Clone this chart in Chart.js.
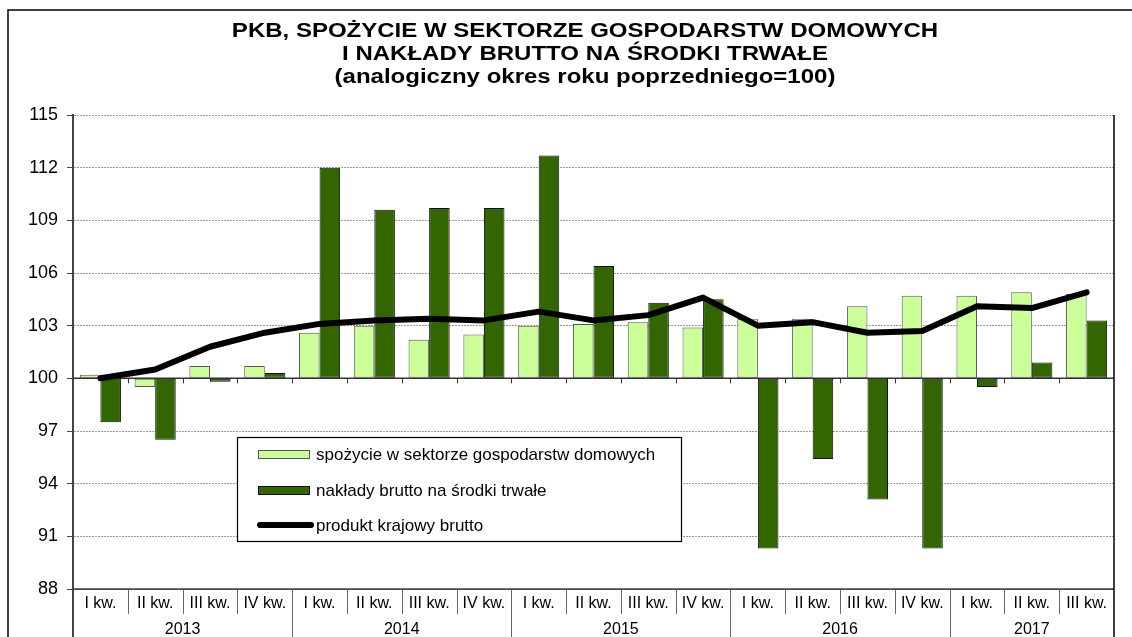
<!DOCTYPE html>
<html>
<head>
<meta charset="utf-8">
<script src="https://cdn.jsdelivr.net/npm/chart.js@4"></script>
<style>
  html, body { margin: 0; padding: 0; background: #fff; }
  #wrap { width: 1132px; height: 637px; position: relative; }
</style>
</head>
<body>
<div id="wrap"><canvas id="gdpChart"></canvas></div>
<script>
// dane
const quarters = ['I kw.', 'II kw.', 'III kw.', 'IV kw.',
  'I kw.', 'II kw.', 'III kw.', 'IV kw.',
  'I kw.', 'II kw.', 'III kw.', 'IV kw.',
  'I kw.', 'II kw.', 'III kw.', 'IV kw.',
  'I kw.', 'II kw.', 'III kw.'];
const years = ['2013', '2014', '2015', '2016', '2017'];
const quartersPerYear = [4, 4, 4, 4, 3];

const consumption = [100.2, 99.5, 100.7, 100.7, 102.6, 103.0, 102.2, 102.5, 103.0, 103.1,
  103.2, 102.9, 103.4, 103.4, 104.1, 104.7, 104.7, 104.9, 104.8];
const investment = [97.5, 96.5, 99.8, 100.3, 112.0, 109.6, 109.7, 109.7, 112.7, 106.4,
  104.3, 104.5, 90.3, 95.4, 93.1, 90.3, 99.5, 100.9, 103.3];
const gdp = [100.0, 100.5, 101.8, 102.6, 103.1, 103.3, 103.4, 103.3, 103.8, 103.3,
  103.6, 104.6, 103.0, 103.2, 102.6, 102.7, 104.1, 104.0, 104.9];

const yTicks = [88, 91, 94, 97, 100, 103, 106, 109, 112, 115];

const titleLines = [
  'PKB, SPOŻYCIE W SEKTORZE GOSPODARSTW DOMOWYCH',
  'I NAKŁADY BRUTTO NA ŚRODKI TRWAŁE',
  '(analogiczny okres roku poprzedniego=100)'
];
const seriesNames = [
  'spożycie w sektorze gospodarstw domowych',
  'nakłady brutto na środki trwałe',
  'produkt krajowy brutto'
];

const LIGHT = '#CCFF99';
const DARK = '#336600';
const FONT = '"Liberation Sans", Arial, sans-serif';

// ramka, tytuł, legenda, opisy osi
const decorPlugin = {
  id: 'decor',
  beforeDraw(chart) {
    const c = chart.ctx;
    c.save();
    c.fillStyle = '#fff';
    c.fillRect(0, 0, chart.width, chart.height);
    c.strokeStyle = '#000';
    c.lineWidth = 1.5;
    c.strokeRect(8, 10, chart.width + 20, chart.height + 20);

    // tytuł - rozciągnięty w poziomie jak w oryginale
    c.fillStyle = '#000';
    c.font = 'bold 20px ' + FONT;
    c.textAlign = 'center';
    c.textBaseline = 'alphabetic';
    c.translate(585, 0);
    c.scale(1.2, 1);
    const baselines = [37, 60, 83];
    titleLines.forEach((t, i) => c.fillText(t, 0, baselines[i]));
    c.restore();
  },
  beforeDatasetsDraw(chart) {
    const c = chart.ctx;
    const y = chart.scales.y;
    const area = chart.chartArea;
    const y100 = y.getPixelForValue(100);
    c.save();
    c.strokeStyle = '#333';
    c.lineWidth = 1.5;
    c.beginPath();
    c.moveTo(area.left, y100);
    c.lineTo(area.right, y100);
    c.stroke();
    // znaczniki kategorii na osi 100
    c.lineWidth = 1;
    const step = (area.right - area.left) / quarters.length;
    for (let i = 1; i < quarters.length; i++) {
      const px = Math.round(area.left + step * i) + 0.5;
      c.beginPath();
      c.moveTo(px, y100);
      c.lineTo(px, y100 + 5);
      c.stroke();
    }
    c.restore();
  },
  afterDraw(chart) {
    const c = chart.ctx;
    const x = chart.scales.x;
    const area = chart.chartArea;
    const H = chart.height;
    const step = (area.right - area.left) / quarters.length;
    c.save();

    // oś X
    c.strokeStyle = '#444';
    c.lineWidth = 1.5;
    c.beginPath();
    c.moveTo(area.left, area.bottom);
    c.lineTo(area.right, area.bottom);
    c.stroke();

    // prawa krawędź
    c.strokeStyle = '#000';
    c.lineWidth = 1.5;
    c.beginPath();
    c.moveTo(area.right, area.top);
    c.lineTo(area.right, H);
    c.stroke();

    // lewa oś w dół
    c.strokeStyle = '#444';
    c.lineWidth = 2;
    c.beginPath();
    c.moveTo(area.left, area.bottom);
    c.lineTo(area.left, H);
    c.stroke();

    // separatory kwartałów i lat
    c.strokeStyle = '#666';
    c.lineWidth = 1;
    let yearStart = 0;
    const yearBounds = new Set();
    quartersPerYear.forEach(n => { yearStart += n; yearBounds.add(yearStart); });
    for (let i = 1; i < quarters.length; i++) {
      const px = Math.round(area.left + step * i) + 0.5;
      c.beginPath();
      c.moveTo(px, area.bottom);
      c.lineTo(px, yearBounds.has(i) ? H : area.bottom + 25);
      c.stroke();
    }

    c.fillStyle = '#000';
    c.font = '16px ' + FONT;
    c.textAlign = 'center';
    c.textBaseline = 'middle';
    quarters.forEach((q, i) => c.fillText(q, x.getPixelForValue(i), area.bottom + 15));
    let s = 0;
    years.forEach((yr, k) => {
      const a = x.getPixelForValue(s);
      const b = x.getPixelForValue(s + quartersPerYear[k] - 1);
      c.fillText(yr, (a + b) / 2, area.bottom + 41);
      s += quartersPerYear[k];
    });

    // legenda
    const lx = 237, ly = 437, lw = 444, lh = 104;
    c.fillStyle = '#fff';
    c.fillRect(lx, ly, lw, lh);
    c.strokeStyle = '#000';
    c.lineWidth = 1.2;
    c.strokeRect(lx + 0.5, ly + 0.5, lw, lh);
    const rows = [454, 490, 525];
    c.lineWidth = 1;
    c.strokeStyle = '#555';
    c.fillStyle = LIGHT;
    c.fillRect(258, rows[0] - 4, 52, 9);
    c.strokeRect(258.5, rows[0] - 3.5, 51, 8);
    c.fillStyle = DARK;
    c.fillRect(258, rows[1] - 4, 52, 9);
    c.strokeStyle = '#111';
    c.strokeRect(258.5, rows[1] - 3.5, 51, 8);
    c.strokeStyle = '#000';
    c.lineWidth = 6;
    c.lineCap = 'round';
    c.beginPath();
    c.moveTo(260, rows[2]);
    c.lineTo(311, rows[2]);
    c.stroke();
    c.fillStyle = '#000';
    c.font = '17px ' + FONT;
    c.textAlign = 'left';
    c.textBaseline = 'middle';
    seriesNames.forEach((n, i) => c.fillText(n, 316, rows[i] + 1));

    c.restore();
  }
};

const chart = new Chart(document.getElementById('gdpChart'), {
  type: 'bar',
  data: {
    labels: quarters,
    datasets: [
      {
        type: 'line',
        label: seriesNames[2],
        data: gdp,
        borderColor: '#000',
        borderWidth: 6,
        borderCapStyle: 'round',
        borderJoinStyle: 'round',
        pointRadius: 0,
        tension: 0,
        order: 0
      },
      {
        label: seriesNames[0],
        data: consumption,
        base: 100,
        backgroundColor: LIGHT,
        borderColor: '#555',
        borderWidth: 1,
        borderSkipped: false,
        categoryPercentage: 0.75,
        barPercentage: 1,
        order: 1
      },
      {
        label: seriesNames[1],
        data: investment,
        base: 100,
        backgroundColor: DARK,
        borderColor: '#111',
        borderWidth: 1,
        borderSkipped: false,
        categoryPercentage: 0.75,
        barPercentage: 1,
        order: 2
      }
    ]
  },
  options: {
    responsive: true,
    maintainAspectRatio: false,
    devicePixelRatio: 1,
    animation: false,
    layout: {
      padding: { top: 115, left: 0, right: 18, bottom: 48 }
    },
    scales: {
      x: {
        display: false,
        offset: true
      },
      y: {
        min: 88,
        max: 115,
        afterFit(scale) { scale.width = 73; },
        afterBuildTicks(scale) { scale.ticks = yTicks.map(v => ({ value: v })); },
        border: {
          display: true,
          color: '#444',
          width: 2,
          dash: ctx => (ctx.tick && (ctx.tick.value === 88 || ctx.tick.value === 100)) ? [] : [2, 1]
        },
        grid: {
          color: ctx => (ctx.tick && (ctx.tick.value === 88 || ctx.tick.value === 100)) ? '#444' : '#9a9a9a',
          lineWidth: 1,
          drawTicks: true,
          tickLength: 6,
          tickColor: '#444'
        },
        ticks: {
          padding: 9,
          color: '#000',
          font: { family: FONT, size: 18 }
        }
      }
    },
    plugins: {
      legend: { display: false },
      title: { display: false },
      tooltip: { enabled: false }
    }
  },
  plugins: [decorPlugin]
});
</script>
</body>
</html>
